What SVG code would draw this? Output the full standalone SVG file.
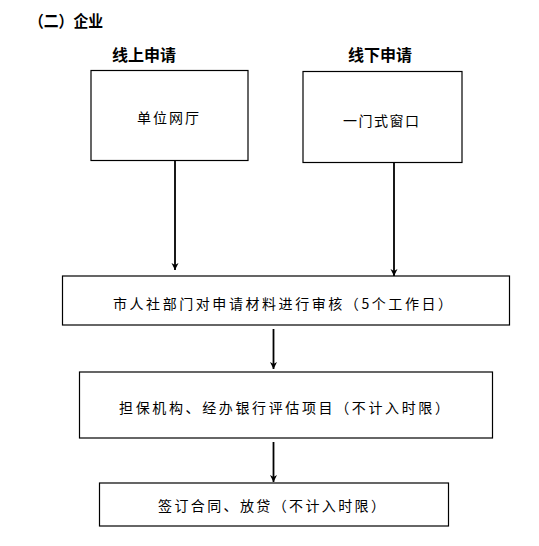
<svg xmlns="http://www.w3.org/2000/svg" width="539" height="546" viewBox="0 0 539 546">
<style>
.box{fill:#fff;stroke:#000;stroke-width:1.2}
.t{font-family:"Noto Sans CJK SC","Liberation Sans",sans-serif;font-size:14px;fill:#000;text-anchor:start;dominant-baseline:central}
.h{font-family:"Noto Sans CJK SC","Liberation Sans",sans-serif;font-size:16px;font-weight:bold;fill:#000;dominant-baseline:central}
.c{stroke:#000;stroke-width:1.8;fill:none}
</style>
<defs>
<marker id="ah" viewBox="0 0 10 10" refX="10" refY="5" markerWidth="7" markerHeight="8" markerUnits="userSpaceOnUse" orient="auto">
<path d="M0,0 L10,5 L0,10 L3,5 Z" fill="#000"/>
</marker>
</defs>
<rect width="539" height="546" fill="#fff"/>
<text class="h" x="29" y="20" textLength="74" lengthAdjust="spacingAndGlyphs">（二）企业</text>
<text class="h" x="112" y="54" textLength="64" lengthAdjust="spacingAndGlyphs">线上申请</text>
<text class="h" x="348" y="54" textLength="64" lengthAdjust="spacingAndGlyphs">线下申请</text>
<g id="n1"><rect class="box" x="91" y="70.5" width="157" height="90"/><text class="t" x="137" y="117" textLength="62" lengthAdjust="spacing">单位网厅</text></g>
<g id="n2"><rect class="box" x="303" y="71.5" width="159" height="91"/><text class="t" x="343" y="120" textLength="76" lengthAdjust="spacing">一门式窗口</text></g>
<g id="n3"><rect class="box" x="62.5" y="276" width="447" height="49"/><text class="t" x="113" y="303" textLength="339" lengthAdjust="spacing">市人社部门对申请材料进行审核（5个工作日）</text></g>
<g id="n4"><rect class="box" x="79.5" y="372" width="413" height="66"/><text class="t" x="119" y="407" textLength="330" lengthAdjust="spacing">担保机构、经办银行评估项目（不计入时限）</text></g>
<g id="n5"><rect class="box" x="99.5" y="483" width="349" height="43"/><text class="t" x="158" y="505" textLength="227" lengthAdjust="spacing">签订合同、放贷（不计入时限）</text></g>
<g id="connectors">
<line class="c" x1="175" y1="161" x2="175" y2="270" marker-end="url(#ah)"/>
<line class="c" x1="394" y1="163" x2="394" y2="276" marker-end="url(#ah)"/>
<line class="c" x1="273.5" y1="329" x2="273.5" y2="369" marker-end="url(#ah)"/>
<line class="c" x1="273.5" y1="442" x2="273.5" y2="482" marker-end="url(#ah)"/>
</g>
</svg>
